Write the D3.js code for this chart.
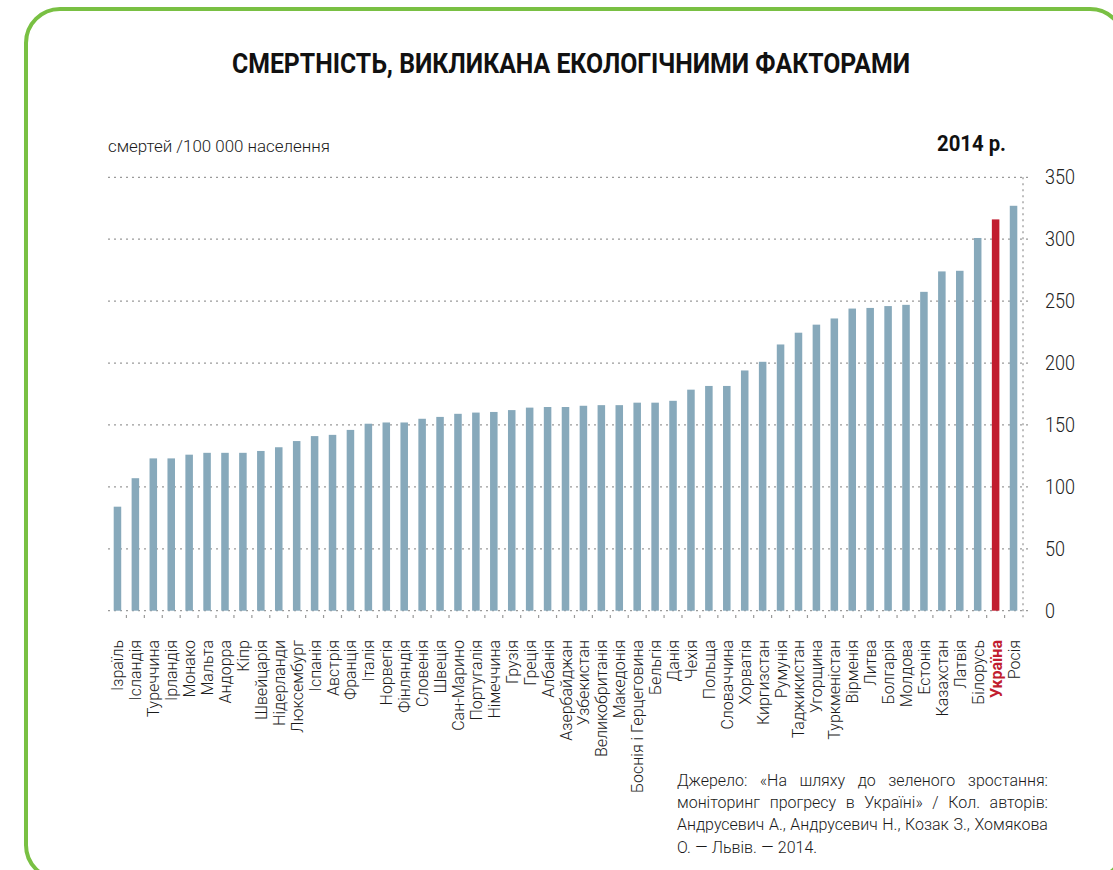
<!DOCTYPE html>
<html>
<head>
<meta charset="utf-8">
<script src="https://cdn.jsdelivr.net/npm/d3@7"></script>
<style>
  html, body { margin: 0; padding: 0; background: #fff; }
  svg { display: block; font-family: Roboto, "Open Sans", sans-serif; }
</style>
</head>
<body>
<svg id="chart" width="1113" height="870"></svg>
<script>
const countries = ["Ізраїль","Ісландія","Туреччина","Ірландія","Монако","Мальта","Андорра","Кіпр","Швейцарія","Нідерланди","Люксембург","Іспанія","Австрія","Франція","Італія","Норвегія","Фінляндія","Словенія","Швеція","Сан-Марино","Португалія","Німеччина","Грузія","Греція","Албанія","Азербайджан","Узбекистан","Великобританія","Македонія","Боснія і Герцеговина","Бельгія","Данія","Чехія","Польща","Словаччина","Хорватія","Киргизстан","Румунія","Таджикистан","Угорщина","Туркменістан","Вірменія","Литва","Болгарія","Молдова","Естонія","Казахстан","Латвія","Білорусь","Україна","Росія"];
const deaths = [84,107,123,123,126,127.5,127.5,127.5,129,132,137,141,142,146,151,152,152,155,156.5,159,160,160.5,162,164,164.5,164.5,165.5,166,166,168,168,169.5,178.5,181.5,181.5,194,201,215,224.5,231,236,244,244.5,246,247,257.5,274,274.5,301,316,327];
const highlight = "Україна";
const yTicks = [0,50,100,150,200,250,300,350];
const titleText = "СМЕРТНІСТЬ, ВИКЛИКАНА ЕКОЛОГІЧНИМИ ФАКТОРАМИ";
const unitText = "смертей /100 000 населення";
const yearText = "2014 р.";
const sourceLines = [
  "Джерело: «На шляху до зеленого зростання:",
  "моніторинг прогресу в Україні» / Кол. авторів:",
  "Андрусевич А., Андрусевич Н., Козак З., Хомякова",
  "О. — Львів. — 2014."
];

const svg = d3.select("#chart");
const barColor = "#87a9bb", redColor = "#c11d2f", green = "#79c043", gridColor = "#9a9a9a", textColor = "#1a1a1a";

// frame
svg.append("rect").attr("x", 26).attr("y", 9).attr("width", 1098).attr("height", 870)
  .attr("rx", 34).attr("ry", 34).attr("fill", "none").attr("stroke", green).attr("stroke-width", 4);

function fitText(sel, target) {
  const w = sel.node().getComputedTextLength();
  if (w > 0) sel.attr("textLength", target).attr("lengthAdjust", "spacingAndGlyphs");
}

// title
const title = svg.append("text").attr("x", 571).attr("y", 73).attr("text-anchor", "middle")
  .attr("font-size", 28).attr("font-weight", 700).attr("fill", "#111").text(titleText);
fitText(title, 678);

const unit = svg.append("text").attr("x", 108).attr("y", 152).attr("font-size", 17).attr("font-weight", 300)
  .attr("fill", textColor).text(unitText);
fitText(unit, 222);

const year = svg.append("text").attr("x", 937).attr("y", 151).attr("font-size", 22).attr("font-weight", 700)
  .attr("fill", "#111").text(yearText);
fitText(year, 69);

// scales
const x = d3.scaleBand().domain(countries).range([108.5, 1022.5]).paddingInner(0.58).paddingOuter(0.29);
const y = d3.scaleLinear().domain([0, 350]).range([610.7, 177.3]);

// grid
const grid = svg.append("g");
grid.selectAll("line.h").data(yTicks).join("line")
  .attr("x1", 108).attr("x2", 1029).attr("y1", d => y(d)).attr("y2", d => y(d))
  .attr("stroke", gridColor).attr("stroke-width", 1.3).attr("stroke-dasharray", "2,4");
grid.append("line").attr("x1", 1023).attr("x2", 1023).attr("y1", y(350)).attr("y2", 618)
  .attr("stroke", gridColor).attr("stroke-width", 1.3).attr("stroke-dasharray", "2,4");
// small ticks between bars
grid.selectAll("line.t").data(countries.slice(1)).join("line")
  .attr("x1", d => x(d) - x.step() * x.paddingInner() / 2).attr("x2", d => x(d) - x.step() * x.paddingInner() / 2)
  .attr("y1", 615).attr("y2", 618).attr("stroke", gridColor).attr("stroke-width", 1.2);

// y tick labels
const yAxis = svg.append("g").attr("transform", "translate(1045,0)");
yAxis.selectAll("text").data(yTicks).join("text")
  .attr("x", 0).attr("y", d => y(d) + 7).attr("font-size", 20).attr("font-weight", 300)
  .attr("fill", "#222").text(d => d)
  .each(function() { const w = this.getComputedTextLength(); d3.select(this).attr("textLength", w * 0.9).attr("lengthAdjust", "spacingAndGlyphs"); });

// bars
svg.append("g").selectAll("rect").data(countries).join("rect")
  .attr("x", d => x(d)).attr("width", x.bandwidth())
  .attr("y", (d, i) => y(deaths[i])).attr("height", (d, i) => y(0) - y(deaths[i]))
  .attr("fill", d => d === highlight ? redColor : barColor);

// country labels
svg.append("g").selectAll("text").data(countries).join("text")
  .attr("transform", d => `translate(${x(d) + x.bandwidth() / 2 + 6},640) rotate(-90) scale(0.97,1)`)
  .attr("text-anchor", "end").attr("font-size", 16.5)
  .attr("font-weight", d => d === highlight ? 700 : 300)
  .attr("fill", d => d === highlight ? redColor : textColor)
  .text(d => d);

// source (justified)
const srcX0 = 677, srcX1 = 1048, srcY0 = 786, srcDy = 22.2;
const src = svg.append("g").attr("font-size", 17).attr("font-weight", 300).attr("fill", textColor);
const scaleF = 0.94;
sourceLines.forEach((line, li) => {
  const words = line.split(" ");
  const ts = words.map(w => src.append("text").text(w));
  const widths = ts.map(t => t.node().getComputedTextLength() * scaleF);
  const total = d3.sum(widths);
  const justify = li < sourceLines.length - 1;
  const gap = justify ? ((srcX1 - srcX0) - total) / (words.length - 1) : 4.3;
  let cx = srcX0;
  ts.forEach((t, i) => {
    t.attr("transform", `translate(${cx},${srcY0 + li * srcDy}) scale(${scaleF},1)`);
    cx += widths[i] + gap;
  });
});
</script>
</body>
</html>
